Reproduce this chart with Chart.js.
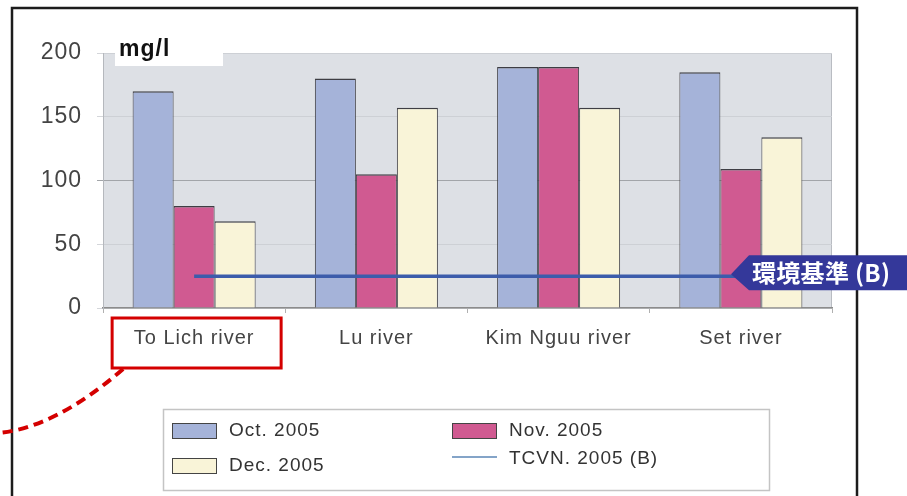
<!DOCTYPE html>
<html>
<head>
<meta charset="utf-8">
<script src="https://cdn.jsdelivr.net/npm/chart.js@4.4.0/dist/chart.umd.min.js"></script>
<style>
body{margin:0;background:#fff;}
canvas{display:block;}
</style>
</head>
<body>
<canvas id="myChart" width="907" height="496"></canvas>
<script>
// data
const rivers = ['To Lich river', 'Lu river', 'Kim Nguu river', 'Set river'];
const octValues = [170, 180, 189, 185];
const novValues = [80, 105, 189, 109];
const decValues = [68, 157, 157, 134];
const tcvnValues = [25, 25, 25, 25];
const yTicks = [0, 50, 100, 150, 200];
const seriesNames = ['Oct. 2005', 'Nov. 2005', 'Dec. 2005', 'TCVN. 2005 (B)'];
const unitLabel = 'mg/l';
const tagText = '環境基準 (B)';

Chart.defaults.font.family = "'Liberation Sans', Arial, sans-serif";

const colors = ['#a5b3d9', '#d05a91', '#f9f4d8'];

// background, legend and the hand drawn marks round the chart
const extras = {
  id: 'extras',
  beforeDraw(chart) {
    const ctx = chart.ctx, a = chart.chartArea;
    ctx.save();
    ctx.fillStyle = '#dde0e5';
    ctx.fillRect(a.left, a.top, a.right - a.left, a.bottom - a.top);
    ctx.strokeStyle = '#b9bcc2';
    ctx.lineWidth = 1;
    ctx.strokeRect(a.left + 0.5, a.top + 0.5, a.right - a.left - 1, a.bottom - a.top);
    ctx.restore();
    // the scanned text is a bit wider than the font
    ctx.letterSpacing = '1px';
  },
  afterDraw(chart) {
    const ctx = chart.ctx;
    const xs = chart.scales.x, ys = chart.scales.y;
    ctx.save();

    // unit label
    ctx.fillStyle = '#fff';
    ctx.fillRect(115, 38, 108, 28);
    ctx.fillStyle = '#111';
    ctx.font = "bold 23px 'Liberation Sans', Arial";
    ctx.textBaseline = 'middle';
    ctx.fillText(unitLabel, 119, 50);

    // outer frame
    ctx.strokeStyle = '#1c1c1c';
    ctx.lineWidth = 2.5;
    ctx.strokeRect(12, 8, 845, 520);

    // tag on the standard line
    const ly = ys.getPixelForValue(tcvnValues[3]) - 2;
    ctx.fillStyle = '#34389a';
    ctx.beginPath();
    ctx.moveTo(731, ly);
    ctx.lineTo(749, ly - 19);
    ctx.lineTo(907, ly - 19);
    ctx.lineTo(907, ly + 16);
    ctx.lineTo(749, ly + 16);
    ctx.closePath();
    ctx.fill();
    ctx.fillStyle = '#fff';
    ctx.font = "bold 24px 'Noto Sans CJK JP', sans-serif";
    ctx.textBaseline = 'middle';
    ctx.letterSpacing = '0.3px';
    ctx.fillText(tagText, 752, ly - 1);
    ctx.letterSpacing = '1px';

    // red box round the first river name
    const cx = xs.getPixelForValue(0);
    ctx.strokeStyle = '#d40000';
    ctx.lineWidth = 3;
    ctx.strokeRect(cx - 82, 318, 169, 50);

    // dashed red curve
    ctx.setLineDash([10, 6]);
    ctx.lineWidth = 4;
    ctx.beginPath();
    ctx.moveTo(cx - 71, 369);
    ctx.quadraticCurveTo(55, 428, -2, 433);
    ctx.stroke();
    ctx.setLineDash([]);

    // legend
    ctx.strokeStyle = '#c4c4c4';
    ctx.lineWidth = 1.5;
    ctx.strokeRect(163.5, 409.5, 606, 81);
    ctx.font = "19px 'Liberation Sans', Arial";
    ctx.fillStyle = '#333';
    ctx.textBaseline = 'middle';
    const items = [
      {x: 172, y: 431, i: 0},
      {x: 452, y: 431, i: 1},
      {x: 172, y: 466, i: 2},
      {x: 452, y: 459, i: 3}
    ];
    items.forEach(it => {
      const ds = chart.data.datasets[it.i];
      if (ds.type === 'line') {
        ctx.strokeStyle = '#5b86b6';
        ctx.lineWidth = 1.5;
        ctx.beginPath();
        ctx.moveTo(it.x, it.y - 2);
        ctx.lineTo(it.x + 45, it.y - 2);
        ctx.stroke();
      } else {
        ctx.fillStyle = ds.backgroundColor;
        ctx.fillRect(it.x, it.y - 8, 45, 16);
        ctx.strokeStyle = '#444';
        ctx.lineWidth = 1;
        ctx.strokeRect(it.x + 0.5, it.y - 7.5, 44, 15);
      }
      ctx.fillStyle = '#333';
      ctx.fillText(ds.label, it.x + 57, it.y);
    });

    ctx.restore();
  }
};

const data = {
  labels: rivers,
  datasets: [
    {label: seriesNames[0], data: octValues, backgroundColor: colors[0], borderColor: '#3e3e44', borderWidth: {top: 1.5, left: 1, right: 1, bottom: 0}, order: 1},
    {label: seriesNames[1], data: novValues, backgroundColor: colors[1], borderColor: '#3e3e44', borderWidth: {top: 1.5, left: 1, right: 1, bottom: 0}, order: 1},
    {label: seriesNames[2], data: decValues, backgroundColor: colors[2], borderColor: '#3e3e44', borderWidth: {top: 1.5, left: 1, right: 1, bottom: 0}, order: 1},
    {type: 'line', label: seriesNames[3], data: tcvnValues, borderColor: '#3c5cab', borderWidth: 3.5, pointRadius: 0, order: 0}
  ]
};

const config = {
  type: 'bar',
  data,
  options: {
    responsive: false,
    animation: false,
    layout: {padding: {left: 0, right: 75, top: 53, bottom: 138}},
    datasets: {bar: {categoryPercentage: 0.675, barPercentage: 1}},
    plugins: {legend: {display: false}, tooltip: {enabled: false}},
    scales: {
      x: {
        afterFit: s => { s.height = 50; },
        grid: {drawOnChartArea: false, tickLength: 5, tickColor: '#b0b0b0', offset: true},
        border: {color: '#8c8c8c', width: 1.5},
        ticks: {color: '#444', font: {size: 20}, padding: 13, maxRotation: 0}
      },
      y: {
        min: 0,
        max: 200,
        afterFit: s => { s.width = 103; },
        afterBuildTicks: s => { s.ticks = yTicks.map(v => ({value: v})); },
        grid: {
          tickLength: 6,
          color: c => (c.tick && c.tick.value === 100) ? '#a2a5a9' : '#cdd0d5',
          tickColor: c => (c.tick && c.tick.value === 100) ? '#a2a5a9' : '#d4d6da'
        },
        border: {color: '#b5b8bd'},
        ticks: {color: '#444', font: {size: 23}, padding: 15}
      }
    }
  },
  plugins: [extras]
};

const myChart = new Chart(document.getElementById('myChart'), config);
</script>
</body>
</html>
